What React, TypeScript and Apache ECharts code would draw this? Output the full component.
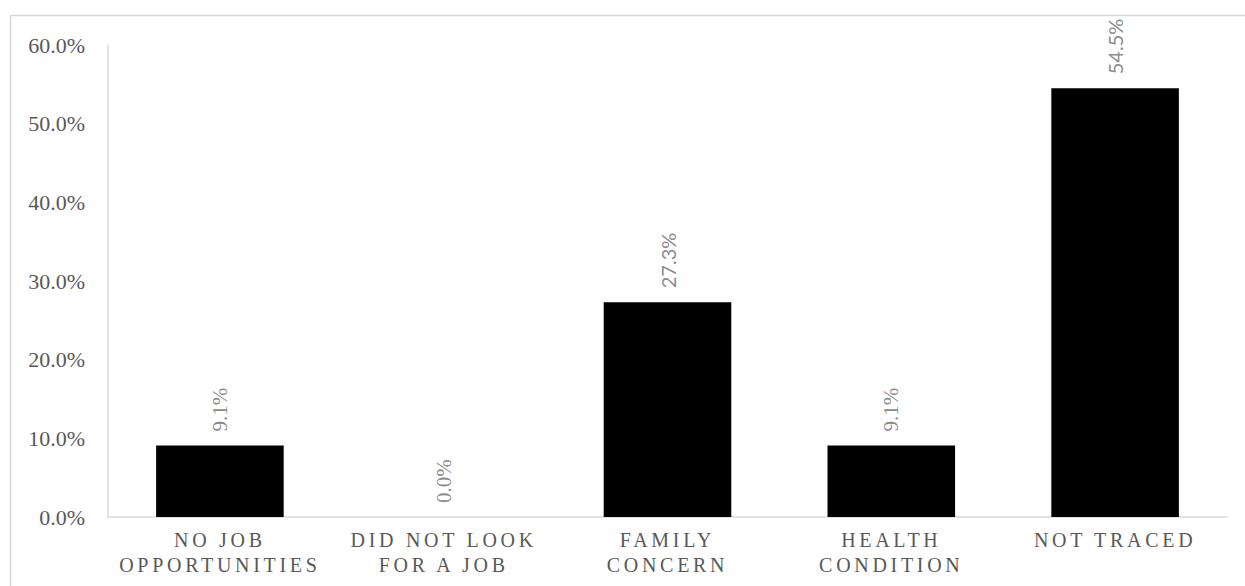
import React, { useEffect, useRef } from "react";
import * as echarts from "echarts";

const categories = [
  "NO JOB\nOPPORTUNITIES",
  "DID NOT LOOK\nFOR A JOB",
  "FAMILY\nCONCERN",
  "HEALTH\nCONDITION",
  "NOT TRACED",
];
const values = [9.1, 0.0, 27.3, 9.1, 54.5];
const labelFonts = ["serif", "serif", "sans", "serif", "sans"];
const yTicks = { min: 0, max: 60, interval: 10 };

const SERIF = "'Liberation Serif', 'Times New Roman', serif";
const SANS = "Lato, 'Liberation Sans', sans-serif";
const XLABEL_COLOR = "#595958";

export default function App() {
  const ref = useRef<HTMLDivElement>(null);

  useEffect(() => {
    if (!ref.current) return;
    const chart = echarts.init(ref.current, undefined, { renderer: "svg" });
    chart.setOption({
      animation: false,
      backgroundColor: "#ffffff",
      graphic: [
        {
          type: "rect",
          left: 8,
          top: 13,
          shape: { x: 0, y: 0, width: 1236, height: 600 },
          style: { fill: "none", stroke: "#d9d9d9", lineWidth: 1.5 },
          silent: true,
          z: -10,
        },
      ],
      grid: { left: 108, right: 18, top: 45, bottom: 69, containLabel: false },
      xAxis: {
        type: "category",
        data: categories,
        axisLine: { show: true, lineStyle: { color: "#d9d9d9", width: 1.5 } },
        axisTick: { show: false },
        axisLabel: {
          color: XLABEL_COLOR,
          fontFamily: SERIF,
          fontSize: 20,
          lineHeight: 25,
          margin: 10,
          interval: 0,
        },
      },
      yAxis: {
        type: "value",
        min: yTicks.min,
        max: yTicks.max,
        interval: yTicks.interval,
        axisLine: { show: true, lineStyle: { color: "#d9d9d9", width: 1.5 } },
        axisTick: { show: false },
        splitLine: { show: false },
        axisLabel: {
          color: "#595959",
          fontFamily: SERIF,
          fontSize: 22,
          margin: 23,
          formatter: (v: number) => v.toFixed(1) + "%",
        },
      },
      series: [
        {
          type: "bar",
          barCategoryGap: "43%",
          itemStyle: { color: "#000000", borderWidth: 0 },
          data: values.map((v, i) => ({
            value: v,
            label: {
              fontFamily: labelFonts[i] === "sans" ? SANS : SERIF,
              fontSize: labelFonts[i] === "sans" ? 20 : 21,
            },
          })),
          label: {
            show: true,
            position: "top",
            rotate: 90,
            align: "left",
            verticalAlign: "middle",
            distance: 14,
            color: "#8c8c8c",
            formatter: (p: any) => Number(p.value).toFixed(1) + "%",
          },
        },
      ],
    });
    return () => chart.dispose();
  }, []);

  return (
    <>
      <style>{`text[fill="${XLABEL_COLOR}"] { letter-spacing: 3.7px; }`}</style>
      <div
        ref={ref}
        style={{ position: "absolute", left: 0, top: 0, width: 1245, height: 586 }}
      />
    </>
  );
}
